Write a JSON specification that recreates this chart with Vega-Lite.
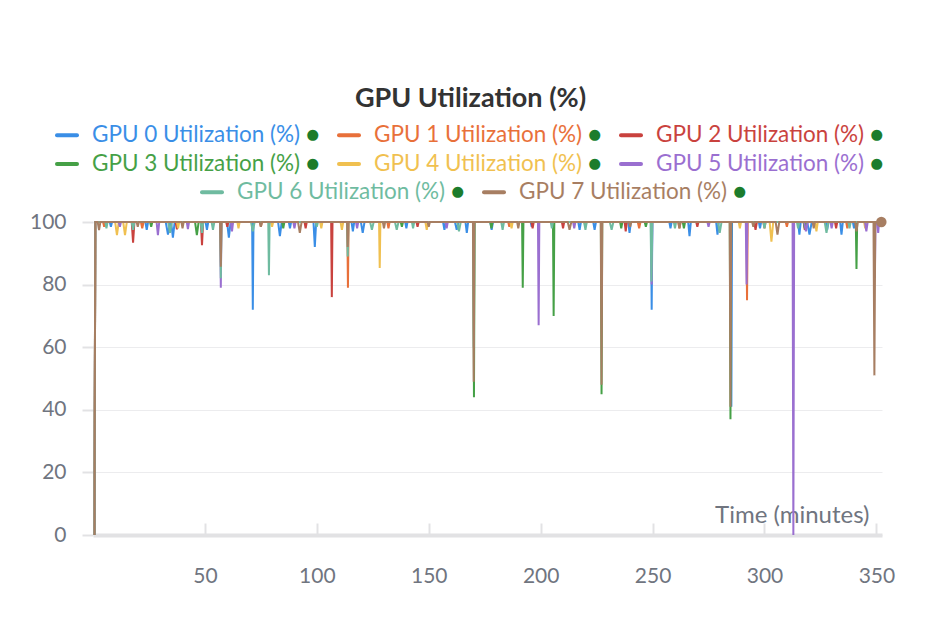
{
  "$schema": "https://vega.github.io/schema/vega-lite/v6.json",
  "width": 789,
  "height": 313,
  "autosize": {"type": "none"},
  "padding": {"left": 93, "top": 222, "right": 66, "bottom": 93},
  "background": "#ffffff",
  "title": {
    "text": "GPU Utilization (%)",
    "font": "Lato",
    "fontSize": 27,
    "fontWeight": "bold",
    "color": "#333333",
    "anchor": "middle",
    "dx": -17,
    "offset": 10
  },
  "datasets": {
    "gpu": [
      {"s":0,"t":0.7,"v":0},{"s":0,"t":1.0,"v":100},
      {"s":0,"t":32.5,"v":100},{"s":0,"t":33.5,"v":96},{"s":0,"t":34.5,"v":100},
      {"s":0,"t":34.9,"v":100},{"s":0,"t":35.7,"v":95},{"s":0,"t":36.5,"v":100},
      {"s":0,"t":50.3,"v":100},{"s":0,"t":50.9,"v":97.5},{"s":0,"t":51.5,"v":100},
      {"s":0,"t":59.9,"v":100},{"s":0,"t":60.7,"v":95},{"s":0,"t":61.5,"v":100},
      {"s":0,"t":71.1,"v":100},{"s":0,"t":71.4,"v":72},{"s":0,"t":71.7,"v":100},
      {"s":0,"t":82.7,"v":100},{"s":0,"t":83.5,"v":95.5},{"s":0,"t":84.3,"v":100},
      {"s":0,"t":98.5,"v":100},{"s":0,"t":99.1,"v":92},{"s":0,"t":99.7,"v":100},
      {"s":0,"t":115.5,"v":100},{"s":0,"t":116.1,"v":97},{"s":0,"t":116.7,"v":100},
      {"s":0,"t":119.7,"v":100},{"s":0,"t":120.5,"v":96.5},{"s":0,"t":121.3,"v":100},
      {"s":0,"t":161.7,"v":100},{"s":0,"t":162.5,"v":97.5},{"s":0,"t":163.3,"v":100},
      {"s":0,"t":166.4,"v":100},{"s":0,"t":167.0,"v":96.5},{"s":0,"t":167.6,"v":100},
      {"s":0,"t":177.5,"v":100},{"s":0,"t":178.1,"v":97.5},{"s":0,"t":178.7,"v":100},
      {"s":0,"t":216.8,"v":100},{"s":0,"t":217.4,"v":97.5},{"s":0,"t":218.0,"v":100},
      {"s":0,"t":223.5,"v":100},{"s":0,"t":224.1,"v":97.5},{"s":0,"t":224.7,"v":100},
      {"s":0,"t":239.1,"v":100},{"s":0,"t":239.7,"v":96.5},{"s":0,"t":240.3,"v":100},
      {"s":0,"t":249.3,"v":100},{"s":0,"t":249.6,"v":72},{"s":0,"t":249.9,"v":100},
      {"s":0,"t":265.9,"v":100},{"s":0,"t":266.5,"v":95.5},{"s":0,"t":267.1,"v":100},
      {"s":0,"t":278.4,"v":100},{"s":0,"t":279.0,"v":96},{"s":0,"t":279.6,"v":100},
      {"s":0,"t":284.9,"v":100},{"s":0,"t":285.2,"v":41},{"s":0,"t":285.5,"v":100},
      {"s":0,"t":315.0,"v":100},{"s":0,"t":315.6,"v":96},{"s":0,"t":316.2,"v":100},
      {"s":0,"t":319.1,"v":100},{"s":0,"t":320.1,"v":96},{"s":0,"t":321.1,"v":100},
      {"s":0,"t":333.8,"v":100},{"s":0,"t":334.4,"v":96},{"s":0,"t":335.0,"v":100},
      {"s":0,"t":7.5,"v":100},{"s":0,"t":8.0,"v":98.5},{"s":0,"t":8.5,"v":100},
      {"s":0,"t":23.4,"v":100},{"s":0,"t":24.0,"v":97.5},{"s":0,"t":24.6,"v":100},
      {"s":0,"t":87.5,"v":100},{"s":0,"t":88.0,"v":98},{"s":0,"t":88.5,"v":100},
      {"s":0,"t":139.5,"v":100},{"s":0,"t":140.0,"v":98},{"s":0,"t":140.5,"v":100},
      {"s":0,"t":156.4,"v":100},{"s":0,"t":157.0,"v":97.5},{"s":0,"t":157.6,"v":100},
      {"s":0,"t":195.5,"v":100},{"s":0,"t":196.0,"v":98.5},{"s":0,"t":196.5,"v":100},
      {"s":0,"t":257.5,"v":100},{"s":0,"t":258.0,"v":98},{"s":0,"t":258.5,"v":100},
      {"s":0,"t":297.5,"v":100},{"s":0,"t":298.0,"v":98},{"s":0,"t":298.5,"v":100},
      {"s":0,"t":327.4,"v":100},{"s":0,"t":328.0,"v":97.5},{"s":0,"t":328.6,"v":100},
      {"s":0,"t":339.5,"v":100},{"s":0,"t":340.0,"v":98},{"s":0,"t":340.5,"v":100},
      {"s":0,"t":352.2,"v":100},

      {"s":1,"t":0.7,"v":0},{"s":1,"t":1.0,"v":100},
      {"s":1,"t":4.5,"v":100},{"s":1,"t":5.0,"v":98.5},{"s":1,"t":5.5,"v":100},
      {"s":1,"t":113.6,"v":100},{"s":1,"t":113.9,"v":79},{"s":1,"t":114.2,"v":100},
      {"s":1,"t":243.4,"v":100},{"s":1,"t":244.0,"v":98},{"s":1,"t":244.6,"v":100},
      {"s":1,"t":291.9,"v":100},{"s":1,"t":292.2,"v":75},{"s":1,"t":292.5,"v":100},
      {"s":1,"t":299.5,"v":100},{"s":1,"t":300.0,"v":98},{"s":1,"t":300.5,"v":100},
      {"s":1,"t":21.4,"v":100},{"s":1,"t":22.0,"v":98},{"s":1,"t":22.6,"v":100},
      {"s":1,"t":74.5,"v":100},{"s":1,"t":75.0,"v":98.5},{"s":1,"t":75.5,"v":100},
      {"s":1,"t":131.5,"v":100},{"s":1,"t":132.0,"v":98},{"s":1,"t":132.5,"v":100},
      {"s":1,"t":185.5,"v":100},{"s":1,"t":186.0,"v":98.5},{"s":1,"t":186.5,"v":100},
      {"s":1,"t":261.5,"v":100},{"s":1,"t":262.0,"v":98},{"s":1,"t":262.5,"v":100},
      {"s":1,"t":309.5,"v":100},{"s":1,"t":310.0,"v":98.5},{"s":1,"t":310.5,"v":100},
      {"s":1,"t":336.5,"v":100},{"s":1,"t":337.0,"v":98},{"s":1,"t":337.5,"v":100},
      {"s":1,"t":352.2,"v":100},

      {"s":2,"t":0.7,"v":0},{"s":2,"t":1.0,"v":100},
      {"s":2,"t":17.3,"v":100},{"s":2,"t":17.9,"v":93.4},{"s":2,"t":18.5,"v":100},
      {"s":2,"t":36.9,"v":100},{"s":2,"t":37.5,"v":97.7},{"s":2,"t":38.1,"v":100},
      {"s":2,"t":48.2,"v":100},{"s":2,"t":48.7,"v":92.6},{"s":2,"t":49.2,"v":100},
      {"s":2,"t":106.4,"v":100},{"s":2,"t":106.7,"v":76},{"s":2,"t":107.0,"v":100},
      {"s":2,"t":195.9,"v":100},{"s":2,"t":196.4,"v":98},{"s":2,"t":196.9,"v":100},
      {"s":2,"t":237.5,"v":100},{"s":2,"t":238.0,"v":97},{"s":2,"t":238.5,"v":100},
      {"s":2,"t":317.5,"v":100},{"s":2,"t":318.0,"v":97.5},{"s":2,"t":318.5,"v":100},
      {"s":2,"t":59.5,"v":100},{"s":2,"t":60.0,"v":98.5},{"s":2,"t":60.5,"v":100},
      {"s":2,"t":94.5,"v":100},{"s":2,"t":95.0,"v":98},{"s":2,"t":95.5,"v":100},
      {"s":2,"t":144.5,"v":100},{"s":2,"t":145.0,"v":98.5},{"s":2,"t":145.5,"v":100},
      {"s":2,"t":209.5,"v":100},{"s":2,"t":210.0,"v":98},{"s":2,"t":210.5,"v":100},
      {"s":2,"t":269.5,"v":100},{"s":2,"t":270.0,"v":98.5},{"s":2,"t":270.5,"v":100},
      {"s":2,"t":295.4,"v":100},{"s":2,"t":296.0,"v":97.5},{"s":2,"t":296.6,"v":100},
      {"s":2,"t":331.5,"v":100},{"s":2,"t":332.0,"v":98},{"s":2,"t":332.5,"v":100},
      {"s":2,"t":352.2,"v":100},

      {"s":3,"t":0.7,"v":0},{"s":3,"t":1.0,"v":100},
      {"s":3,"t":45.6,"v":100},{"s":3,"t":46.4,"v":95.8},{"s":3,"t":47.2,"v":100},
      {"s":3,"t":169.9,"v":100},{"s":3,"t":170.2,"v":44},{"s":3,"t":170.5,"v":100},
      {"s":3,"t":191.7,"v":100},{"s":3,"t":192.0,"v":79},{"s":3,"t":192.3,"v":100},
      {"s":3,"t":205.5,"v":100},{"s":3,"t":205.8,"v":70},{"s":3,"t":206.1,"v":100},
      {"s":3,"t":226.9,"v":100},{"s":3,"t":227.2,"v":45},{"s":3,"t":227.5,"v":100},
      {"s":3,"t":235.5,"v":100},{"s":3,"t":236.0,"v":98},{"s":3,"t":236.5,"v":100},
      {"s":3,"t":284.5,"v":100},{"s":3,"t":284.8,"v":37},{"s":3,"t":285.1,"v":100},
      {"s":3,"t":340.8,"v":100},{"s":3,"t":341.1,"v":85},{"s":3,"t":341.4,"v":100},
      {"s":3,"t":25.5,"v":100},{"s":3,"t":26.0,"v":98.5},{"s":3,"t":26.5,"v":100},
      {"s":3,"t":84.5,"v":100},{"s":3,"t":85.0,"v":98},{"s":3,"t":85.5,"v":100},
      {"s":3,"t":137.5,"v":100},{"s":3,"t":138.0,"v":98.5},{"s":3,"t":138.5,"v":100},
      {"s":3,"t":177.5,"v":100},{"s":3,"t":178.0,"v":98},{"s":3,"t":178.5,"v":100},
      {"s":3,"t":246.5,"v":100},{"s":3,"t":247.0,"v":98.5},{"s":3,"t":247.5,"v":100},
      {"s":3,"t":263.5,"v":100},{"s":3,"t":264.0,"v":98},{"s":3,"t":264.5,"v":100},
      {"s":3,"t":317.5,"v":100},{"s":3,"t":318.0,"v":98},{"s":3,"t":318.5,"v":100},
      {"s":3,"t":352.2,"v":100},

      {"s":4,"t":0.7,"v":0},{"s":4,"t":1.0,"v":100},
      {"s":4,"t":9.9,"v":100},{"s":4,"t":10.7,"v":95.8},{"s":4,"t":11.5,"v":100},
      {"s":4,"t":13.5,"v":100},{"s":4,"t":14.3,"v":95.8},{"s":4,"t":15.1,"v":100},
      {"s":4,"t":64.5,"v":100},{"s":4,"t":65.0,"v":98},{"s":4,"t":65.5,"v":100},
      {"s":4,"t":110.6,"v":100},{"s":4,"t":111.2,"v":97.5},{"s":4,"t":111.8,"v":100},
      {"s":4,"t":127.8,"v":100},{"s":4,"t":128.1,"v":85.3},{"s":4,"t":128.4,"v":100},
      {"s":4,"t":148.5,"v":100},{"s":4,"t":149.1,"v":97.5},{"s":4,"t":149.7,"v":100},
      {"s":4,"t":302.3,"v":100},{"s":4,"t":303.1,"v":93.7},{"s":4,"t":303.9,"v":100},
      {"s":4,"t":322.6,"v":100},{"s":4,"t":323.2,"v":97},{"s":4,"t":323.8,"v":100},
      {"s":4,"t":37.5,"v":100},{"s":4,"t":38.0,"v":98},{"s":4,"t":38.5,"v":100},
      {"s":4,"t":79.5,"v":100},{"s":4,"t":80.0,"v":98.5},{"s":4,"t":80.5,"v":100},
      {"s":4,"t":101.5,"v":100},{"s":4,"t":102.0,"v":98},{"s":4,"t":102.5,"v":100},
      {"s":4,"t":186.5,"v":100},{"s":4,"t":187.0,"v":98},{"s":4,"t":187.5,"v":100},
      {"s":4,"t":219.5,"v":100},{"s":4,"t":220.0,"v":98.5},{"s":4,"t":220.5,"v":100},
      {"s":4,"t":288.5,"v":100},{"s":4,"t":289.0,"v":98},{"s":4,"t":289.5,"v":100},
      {"s":4,"t":344.5,"v":100},{"s":4,"t":345.0,"v":98},{"s":4,"t":345.5,"v":100},
      {"s":4,"t":352.2,"v":100},

      {"s":5,"t":0.7,"v":0},{"s":5,"t":1.0,"v":100},
      {"s":5,"t":28.4,"v":100},{"s":5,"t":29.0,"v":95.8},{"s":5,"t":29.6,"v":100},
      {"s":5,"t":41.9,"v":100},{"s":5,"t":42.4,"v":97.7},{"s":5,"t":42.9,"v":100},
      {"s":5,"t":56.8,"v":100},{"s":5,"t":57.1,"v":79},{"s":5,"t":57.4,"v":100},
      {"s":5,"t":61.6,"v":100},{"s":5,"t":62.1,"v":97},{"s":5,"t":62.6,"v":100},
      {"s":5,"t":198.8,"v":100},{"s":5,"t":199.1,"v":67},{"s":5,"t":199.4,"v":100},
      {"s":5,"t":249.3,"v":100},{"s":5,"t":249.6,"v":80},{"s":5,"t":249.9,"v":100},
      {"s":5,"t":291.65,"v":100},{"s":5,"t":292.0,"v":80},{"s":5,"t":292.35,"v":100},
      {"s":5,"t":312.55,"v":100},{"s":5,"t":312.9,"v":0},{"s":5,"t":313.25,"v":100},
      {"s":5,"t":317.7,"v":100},{"s":5,"t":318.5,"v":97},{"s":5,"t":319.3,"v":100},
      {"s":5,"t":344.9,"v":100},{"s":5,"t":345.5,"v":97},{"s":5,"t":346.1,"v":100},
      {"s":5,"t":349.0,"v":100},{"s":5,"t":349.3,"v":82},{"s":5,"t":349.6,"v":100},
      {"s":5,"t":350.4,"v":100},{"s":5,"t":350.8,"v":96.5},{"s":5,"t":351.2,"v":100},
      {"s":5,"t":11.5,"v":100},{"s":5,"t":12.0,"v":98.5},{"s":5,"t":12.5,"v":100},
      {"s":5,"t":89.5,"v":100},{"s":5,"t":90.0,"v":98},{"s":5,"t":90.5,"v":100},
      {"s":5,"t":117.5,"v":100},{"s":5,"t":118.0,"v":98},{"s":5,"t":118.5,"v":100},
      {"s":5,"t":157.5,"v":100},{"s":5,"t":158.0,"v":98},{"s":5,"t":158.5,"v":100},
      {"s":5,"t":214.5,"v":100},{"s":5,"t":215.0,"v":98},{"s":5,"t":215.5,"v":100},
      {"s":5,"t":274.5,"v":100},{"s":5,"t":275.0,"v":98.5},{"s":5,"t":275.5,"v":100},
      {"s":5,"t":329.5,"v":100},{"s":5,"t":330.0,"v":98},{"s":5,"t":330.5,"v":100},
      {"s":5,"t":352.2,"v":100},

      {"s":6,"t":0.7,"v":0},{"s":6,"t":1.0,"v":100},
      {"s":6,"t":17.3,"v":100},{"s":6,"t":17.9,"v":97.5},{"s":6,"t":18.5,"v":100},
      {"s":6,"t":33.6,"v":100},{"s":6,"t":34.4,"v":96.5},{"s":6,"t":35.2,"v":100},
      {"s":6,"t":48.1,"v":100},{"s":6,"t":48.7,"v":96.5},{"s":6,"t":49.3,"v":100},
      {"s":6,"t":53.0,"v":100},{"s":6,"t":53.6,"v":97.5},{"s":6,"t":54.2,"v":100},
      {"s":6,"t":56.8,"v":100},{"s":6,"t":57.1,"v":82},{"s":6,"t":57.4,"v":100},
      {"s":6,"t":70.6,"v":100},{"s":6,"t":71.4,"v":97},{"s":6,"t":72.2,"v":100},
      {"s":6,"t":78.3,"v":100},{"s":6,"t":78.6,"v":83},{"s":6,"t":78.9,"v":100},
      {"s":6,"t":113.45,"v":100},{"s":6,"t":113.8,"v":89},{"s":6,"t":114.15,"v":100},
      {"s":6,"t":123.8,"v":100},{"s":6,"t":124.6,"v":97.5},{"s":6,"t":125.4,"v":100},
      {"s":6,"t":134.9,"v":100},{"s":6,"t":135.7,"v":97.5},{"s":6,"t":136.5,"v":100},
      {"s":6,"t":162.7,"v":100},{"s":6,"t":163.5,"v":97},{"s":6,"t":164.3,"v":100},
      {"s":6,"t":169.8,"v":100},{"s":6,"t":170.1,"v":60},{"s":6,"t":170.4,"v":100},
      {"s":6,"t":182.4,"v":100},{"s":6,"t":183.0,"v":97.5},{"s":6,"t":183.6,"v":100},
      {"s":6,"t":230.9,"v":100},{"s":6,"t":231.7,"v":97.5},{"s":6,"t":232.5,"v":100},
      {"s":6,"t":249.1,"v":100},{"s":6,"t":249.5,"v":81},{"s":6,"t":249.9,"v":100},
      {"s":6,"t":279.2,"v":100},{"s":6,"t":280.0,"v":96.5},{"s":6,"t":280.8,"v":100},
      {"s":6,"t":326.9,"v":100},{"s":6,"t":327.7,"v":96.5},{"s":6,"t":328.5,"v":100},
      {"s":6,"t":5.5,"v":100},{"s":6,"t":6.0,"v":98},{"s":6,"t":6.5,"v":100},
      {"s":6,"t":99.5,"v":100},{"s":6,"t":100.0,"v":98.5},{"s":6,"t":100.5,"v":100},
      {"s":6,"t":142.5,"v":100},{"s":6,"t":143.0,"v":98},{"s":6,"t":143.5,"v":100},
      {"s":6,"t":204.5,"v":100},{"s":6,"t":205.0,"v":98},{"s":6,"t":205.5,"v":100},
      {"s":6,"t":219.4,"v":100},{"s":6,"t":220.0,"v":97.5},{"s":6,"t":220.6,"v":100},
      {"s":6,"t":259.5,"v":100},{"s":6,"t":260.0,"v":98},{"s":6,"t":260.5,"v":100},
      {"s":6,"t":299.5,"v":100},{"s":6,"t":300.0,"v":98},{"s":6,"t":300.5,"v":100},
      {"s":6,"t":314.5,"v":100},{"s":6,"t":315.0,"v":98},{"s":6,"t":315.5,"v":100},
      {"s":6,"t":337.5,"v":100},{"s":6,"t":338.0,"v":98},{"s":6,"t":338.5,"v":100},
      {"s":6,"t":352.2,"v":100},

      {"s":7,"t":0.7,"v":0},{"s":7,"t":1.0,"v":100},
      {"s":7,"t":2.1,"v":100},{"s":7,"t":2.7,"v":97.4},{"s":7,"t":3.3,"v":100},
      {"s":7,"t":56.75,"v":100},{"s":7,"t":57.1,"v":85.7},{"s":7,"t":57.45,"v":100},
      {"s":7,"t":91.6,"v":100},{"s":7,"t":92.4,"v":96.5},{"s":7,"t":93.2,"v":100},
      {"s":7,"t":113.5,"v":100},{"s":7,"t":113.8,"v":92},{"s":7,"t":114.1,"v":100},
      {"s":7,"t":169.75,"v":100},{"s":7,"t":170.1,"v":49},{"s":7,"t":170.45,"v":100},
      {"s":7,"t":212.1,"v":100},{"s":7,"t":212.9,"v":97.5},{"s":7,"t":213.7,"v":100},
      {"s":7,"t":226.85,"v":100},{"s":7,"t":227.2,"v":48},{"s":7,"t":227.55,"v":100},
      {"s":7,"t":284.45,"v":100},{"s":7,"t":284.8,"v":41},{"s":7,"t":285.15,"v":100},
      {"s":7,"t":305.0,"v":100},{"s":7,"t":305.8,"v":96},{"s":7,"t":306.6,"v":100},
      {"s":7,"t":340.5,"v":100},{"s":7,"t":341.1,"v":97},{"s":7,"t":341.7,"v":100},
      {"s":7,"t":348.7,"v":100},{"s":7,"t":349.1,"v":51},{"s":7,"t":349.5,"v":100},
      {"s":7,"t":19.5,"v":100},{"s":7,"t":20.0,"v":98.5},{"s":7,"t":20.5,"v":100},
      {"s":7,"t":39.5,"v":100},{"s":7,"t":40.0,"v":98},{"s":7,"t":40.5,"v":100},
      {"s":7,"t":74.5,"v":100},{"s":7,"t":75.0,"v":98.5},{"s":7,"t":75.5,"v":100},
      {"s":7,"t":129.5,"v":100},{"s":7,"t":130.0,"v":98},{"s":7,"t":130.5,"v":100},
      {"s":7,"t":149.5,"v":100},{"s":7,"t":150.0,"v":98.5},{"s":7,"t":150.5,"v":100},
      {"s":7,"t":189.5,"v":100},{"s":7,"t":190.0,"v":98},{"s":7,"t":190.5,"v":100},
      {"s":7,"t":239.5,"v":100},{"s":7,"t":240.0,"v":98.5},{"s":7,"t":240.5,"v":100},
      {"s":7,"t":261.5,"v":100},{"s":7,"t":262.0,"v":98},{"s":7,"t":262.5,"v":100},
      {"s":7,"t":294.5,"v":100},{"s":7,"t":295.0,"v":98.5},{"s":7,"t":295.5,"v":100},
      {"s":7,"t":321.5,"v":100},{"s":7,"t":322.0,"v":98},{"s":7,"t":322.5,"v":100},
      {"s":7,"t":352.2,"v":100}
    ]
  },
  "data": {"name": "gpu"},
  "encoding": {
    "x": {
      "field": "t",
      "type": "quantitative",
      "scale": {"domain": [0, 352.5], "nice": false},
      "axis": {
        "title": "Time (minutes)",
        "values": [50, 100, 150, 200, 250, 300, 350],
        "grid": false,
        "domainColor": "#e2e2e4",
        "domainWidth": 4,
        "tickColor": "#e2e2e4",
        "tickWidth": 2,
        "tickSize": -12,
        "labelPadding": 42,
        "labelFont": "Lato",
        "labelFontSize": 21,
        "labelColor": "#70757f",
        "titleFont": "Lato",
        "titleFontSize": 24,
        "titleFontWeight": "normal",
        "titleColor": "#70757f",
        "titleAnchor": "end",
        "titleAlign": "right",
        "titleBaseline": "alphabetic",
        "titleX": 776,
        "titleY": -13
      }
    },
    "y": {
      "field": "v",
      "type": "quantitative",
      "scale": {"domain": [0, 100], "nice": false},
      "axis": {
        "title": null,
        "values": [0, 20, 40, 60, 80, 100],
        "domain": false,
        "gridColor": "#ececee",
        "gridWidth": 1,
        "tickColor": "#e2e2e4",
        "tickWidth": 2,
        "tickSize": 11,
        "labelPadding": 16,
        "labelFont": "Lato",
        "labelFontSize": 21,
        "labelColor": "#70757f"
      }
    }
  },
  "layer": [
    {
      "transform": [{"filter": "datum.s <= 5"}],
      "mark": {"type": "line", "strokeWidth": 2},
      "encoding": {
        "color": {
          "field": "s",
          "type": "nominal",
          "scale": {
            "domain": [0, 1, 2, 3, 4, 5],
            "range": ["#3a8ee6", "#e8703a", "#c9423e", "#45a046", "#f0c050", "#9a6fd0"]
          },
          "legend": {
            "title": null,
            "orient": "none",
            "legendX": -38,
            "legendY": -99,
            "direction": "horizontal",
            "columns": 3,
            "columnPadding": 11,
            "rowPadding": 5,
            "padding": 0,
            "symbolType": "stroke",
            "symbolStrokeWidth": 4,
            "symbolSize": 400,
            "labelFont": "Lato",
            "labelFontSize": 22.5,
            "labelOffset": 13,
            "labelLimit": 0,
            "labelExpr": "'GPU ' + datum.label + ' Utilization (%) ●'",
            "encode": {
              "symbols": {"update": {"strokeCap": {"value": "round"}}},
              "labels": {
                "update": {
                  "fill": {"signal": "{gradient: 'linear', x1: 0, y1: 0, x2: 1, y2: 0, stops: [{offset: 0, color: ['#3a8ee6','#e8703a','#c9423e','#45a046','#f0c050','#9a6fd0','#6fbba0','#a77e62'][datum.value]}, {offset: 0.94, color: ['#3a8ee6','#e8703a','#c9423e','#45a046','#f0c050','#9a6fd0','#6fbba0','#a77e62'][datum.value]}, {offset: 0.94, color: '#1c7c2c'}, {offset: 1, color: '#1c7c2c'}]}"}
                }
              }
            }
          }
        }
      }
    },
    {
      "transform": [{"filter": "datum.s >= 6"}],
      "mark": {"type": "line", "strokeWidth": 2},
      "encoding": {
        "color": {
          "field": "s",
          "type": "nominal",
          "scale": {
            "domain": [6, 7],
            "range": ["#6fbba0", "#a77e62"]
          },
          "legend": {
            "title": null,
            "orient": "none",
            "legendX": 107,
            "legendY": -42,
            "direction": "horizontal",
            "columns": 2,
            "columnPadding": 11,
            "rowPadding": 5,
            "padding": 0,
            "symbolType": "stroke",
            "symbolStrokeWidth": 4,
            "symbolSize": 400,
            "labelFont": "Lato",
            "labelFontSize": 22.5,
            "labelOffset": 13,
            "labelLimit": 0,
            "labelExpr": "'GPU ' + datum.label + ' Utilization (%) ●'",
            "encode": {
              "symbols": {"update": {"strokeCap": {"value": "round"}}},
              "labels": {
                "update": {
                  "fill": {"signal": "{gradient: 'linear', x1: 0, y1: 0, x2: 1, y2: 0, stops: [{offset: 0, color: ['#3a8ee6','#e8703a','#c9423e','#45a046','#f0c050','#9a6fd0','#6fbba0','#a77e62'][datum.value]}, {offset: 0.94, color: ['#3a8ee6','#e8703a','#c9423e','#45a046','#f0c050','#9a6fd0','#6fbba0','#a77e62'][datum.value]}, {offset: 0.94, color: '#1c7c2c'}, {offset: 1, color: '#1c7c2c'}]}"}
                }
              }
            }
          }
        }
      }
    },
    {
      "transform": [{"filter": "datum.s == 7 && datum.t == 352.2"}],
      "mark": {"type": "point", "filled": true, "size": 110, "opacity": 1, "color": "#a77e62"}
    }
  ],
  "resolve": {"scale": {"color": "independent"}, "legend": {"color": "independent"}},
  "config": {
    "view": {"stroke": null},
    "font": "Lato"
  }
}
